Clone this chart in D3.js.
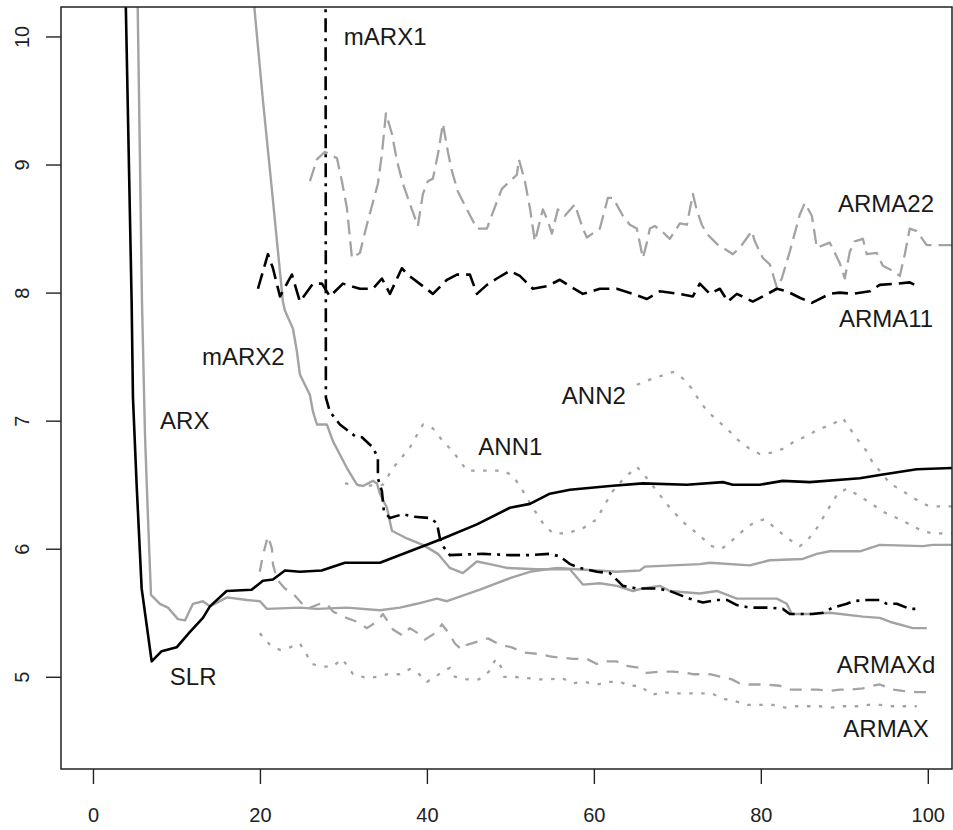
<!DOCTYPE html>
<html>
<head>
<meta charset="utf-8">
<script src="https://cdn.jsdelivr.net/npm/d3@7"></script>
<style>
  body { margin: 0; background: #fff; }
  text { font-family: "Liberation Sans", Arial, sans-serif; }
</style>
</head>
<body>
<div id="chart"></div>
<script>
// series values, as [x, value] pairs
var SLR = [[3.9,10.35],[4.63,7.93],[4.79,7.18],[5.23,6.5],[5.83,5.69],[7.03,5.12],[8.23,5.2],[10.02,5.23],[11.62,5.35],[13.17,5.46],[14.01,5.55],[16.01,5.67],[19.0,5.68],[20.36,5.75],[21.56,5.76],[23.0,5.83],[24.79,5.82],[27.39,5.83],[30.18,5.89],[34.37,5.89],[37.96,5.98],[41.92,6.08],[45.99,6.19],[49.94,6.32],[52.34,6.35],[54.73,6.43],[57.13,6.46],[61.92,6.49],[65.87,6.51],[71.14,6.5],[75.45,6.52],[76.65,6.5],[79.88,6.5],[82.63,6.53],[85.87,6.52],[91.86,6.55],[94.61,6.58],[98.68,6.62],[102.9,6.63]];

var ARX = [[5.33,10.35],[5.63,9.03],[5.87,7.93],[6.23,6.89],[6.59,6.24],[6.95,5.64],[8.02,5.57],[8.98,5.54],[10.18,5.45],[11.02,5.44],[11.98,5.57],[13.17,5.59],[14.01,5.55],[16.05,5.62],[18.44,5.6],[20.0,5.59],[20.84,5.53],[24.79,5.54],[26.83,5.53],[30.42,5.54],[34.37,5.52],[36.77,5.54],[38.8,5.57],[41.2,5.61],[42.4,5.59],[46.35,5.68],[49.94,5.77],[52.34,5.82],[55.57,5.85],[62.75,5.82],[65.51,5.83],[66.11,5.86],[72.69,5.88],[73.89,5.89],[78.68,5.87],[81.08,5.91],[85.03,5.92],[86.71,5.96],[88.26,5.98],[91.86,5.98],[94.25,6.03],[99.4,6.02],[100.6,6.03],[102.9,6.03]];

var mARX1 = [[27.85,11.5],[27.9,7.18],[28.38,7.07],[29.58,6.97],[31.38,6.88],[32.22,6.87],[33.53,6.79],[34.13,6.71],[34.13,6.55],[34.61,6.45],[34.85,6.29],[35.57,6.24],[37.13,6.27],[38.32,6.25],[40.36,6.24],[41.2,6.2],[41.56,6.08],[41.92,6.02],[42.75,5.95],[46.71,5.96],[49.94,5.95],[52.34,5.95],[54.73,5.96],[55.93,5.94],[57.13,5.88],[58.32,5.85],[60.36,5.82],[61.92,5.81],[63.47,5.71],[65.15,5.69],[67.54,5.69],[69.1,5.67],[70.66,5.63],[71.5,5.61],[73.05,5.58],[74.73,5.6],[75.93,5.6],[77.13,5.56],[78.68,5.54],[81.08,5.54],[82.63,5.53],[83.47,5.49],[86.23,5.49],[87.43,5.5],[88.62,5.54],[90.3,5.57],[91.02,5.59],[92.69,5.6],[94.25,5.6],[95.09,5.57],[96.29,5.57],[97.84,5.53],[98.68,5.53]];

var mARX2 = [[19.04,10.43],[20.36,9.5],[21.56,8.72],[22.75,7.93],[22.99,7.86],[23.95,7.72],[24.43,7.54],[24.79,7.36],[25.99,7.2],[26.35,7.07],[26.83,6.97],[28.02,6.97],[28.74,6.84],[30.42,6.63],[31.62,6.5],[32.34,6.49],[33.53,6.53],[34.01,6.51],[34.37,6.43],[35.21,6.32],[35.81,6.14],[37.6,6.08],[39.52,6.03],[41.32,5.96],[42.75,5.85],[44.31,5.81],[45.99,5.9],[47.54,5.88],[49.58,5.85],[53.17,5.84],[57.13,5.84],[58.68,5.72],[60.72,5.73],[62.75,5.71],[64.67,5.67],[65.87,5.69],[67.9,5.71],[69.1,5.67],[72.69,5.65],[74.73,5.67],[77.13,5.61],[81.92,5.61],[83.11,5.57],[83.71,5.49],[85.87,5.49],[88.26,5.5],[92.22,5.47],[94.25,5.46],[95.45,5.43],[98.2,5.38],[99.88,5.38]];

var ARMA11 = [[19.76,8.03],[20.96,8.3],[21.56,8.19],[22.4,7.97],[23.23,8.07],[23.83,8.14],[24.79,7.93],[26.35,8.07],[27.43,8.07],[28.38,7.97],[29.94,8.07],[31.98,8.03],[33.53,8.03],[34.61,8.11],[35.57,7.99],[37.0,8.19],[37.72,8.14],[39.52,8.05],[40.72,7.99],[42.4,8.1],[43.59,8.14],[45.15,8.14],[45.99,7.99],[47.19,8.06],[48.38,8.11],[49.94,8.17],[51.14,8.13],[52.69,8.03],[54.37,8.05],[55.93,8.1],[57.13,8.05],[58.68,7.99],[60.72,8.03],[62.75,8.03],[64.67,7.99],[66.35,7.95],[67.9,8.01],[70.3,7.99],[71.86,7.97],[72.69,8.07],[73.89,7.99],[75.09,8.03],[76.05,7.93],[77.13,7.99],[79.04,7.93],[80.24,7.97],[81.92,8.03],[83.11,8.01],[84.67,7.96],[86.11,7.92],[88.26,7.99],[89.46,8.0],[91.02,7.99],[93.05,8.01],[94.25,8.06],[96.29,8.07],[97.84,8.08],[99.04,8.04]];

var ARMA22 = [[25.99,8.87],[26.83,9.04],[27.78,9.1],[29.22,9.05],[29.82,8.87],[30.42,8.66],[31.02,8.27],[31.98,8.31],[32.81,8.53],[34.13,8.85],[34.61,9.08],[35.09,9.4],[35.81,9.24],[36.41,9.03],[37.13,8.85],[38.2,8.65],[38.92,8.52],[39.52,8.77],[40.12,8.87],[40.72,8.89],[41.32,9.08],[41.92,9.32],[42.51,9.1],[42.99,8.95],[43.71,8.79],[44.79,8.65],[45.99,8.5],[47.19,8.5],[48.38,8.71],[48.98,8.81],[50.78,8.92],[51.02,9.04],[51.74,8.87],[52.34,8.66],[52.93,8.4],[53.89,8.65],[54.49,8.56],[54.97,8.46],[55.69,8.65],[56.53,8.6],[57.72,8.69],[58.68,8.5],[59.16,8.43],[60.72,8.5],[61.68,8.74],[62.28,8.74],[63.47,8.6],[64.31,8.53],[65.15,8.5],[65.87,8.27],[66.35,8.39],[66.71,8.5],[67.3,8.52],[68.14,8.48],[69.1,8.42],[70.3,8.54],[71.14,8.53],[71.86,8.77],[72.34,8.64],[72.93,8.53],[73.53,8.46],[74.73,8.38],[76.65,8.3],[77.49,8.35],[78.92,8.48],[79.28,8.4],[80.24,8.27],[81.08,8.22],[81.92,8.04],[82.51,8.11],[83.47,8.32],[84.67,8.61],[85.27,8.7],[86.11,8.6],[86.71,8.35],[88.26,8.39],[89.46,8.23],[90.06,8.11],[90.66,8.32],[91.26,8.4],[92.22,8.42],[92.69,8.3],[93.89,8.31],[94.61,8.21],[95.81,8.17],[96.65,8.13],[97.25,8.3],[97.84,8.5],[98.68,8.48],[99.88,8.37],[101.08,8.37],[102.99,8.37]];

var ANN1 = [[30.18,6.51],[32.57,6.49],[34.73,6.5],[35.93,6.63],[37.96,6.79],[39.52,6.97],[40.72,6.94],[41.92,6.84],[43.11,6.76],[44.79,6.61],[46.35,6.61],[49.1,6.61],[50.3,6.57],[51.5,6.45],[52.69,6.32],[53.89,6.2],[55.09,6.12],[56.77,6.12],[58.68,6.16],[60.36,6.23],[61.08,6.32],[62.28,6.45],[63.47,6.54],[65.15,6.64],[66.35,6.55],[67.54,6.45],[69.1,6.32],[70.66,6.21],[72.34,6.12],[74.13,6.02],[75.33,6.0],[76.65,6.07],[77.84,6.14],[79.28,6.21],[80.48,6.23],[81.92,6.15],[83.23,6.08],[84.67,6.02],[85.51,6.06],[86.71,6.16],[88.26,6.33],[89.22,6.43],[90.3,6.47],[91.86,6.41],[93.29,6.35],[94.61,6.29],[96.29,6.24],[97.84,6.19],[99.28,6.14],[100.6,6.12],[102.87,6.12]];

var ANN2 = [[65.15,7.28],[66.71,7.32],[69.46,7.38],[70.66,7.33],[71.74,7.25],[72.69,7.15],[73.65,7.07],[74.85,7.0],[76.05,6.93],[77.25,6.85],[78.68,6.78],[79.88,6.74],[81.32,6.75],[82.63,6.78],[84.07,6.84],[85.51,6.88],[86.83,6.93],[88.5,6.97],[89.82,7.02],[90.66,6.94],[91.62,6.85],[92.69,6.76],[93.41,6.67],[94.49,6.59],[95.45,6.51],[97.0,6.45],[98.44,6.39],[99.88,6.34],[101.2,6.33],[102.87,6.33]];

var ARMAXd = [[19.98,5.82],[20.36,5.95],[20.96,6.1],[21.44,6.0],[21.56,5.88],[22.04,5.76],[22.99,5.69],[23.95,5.65],[25.63,5.53],[27.19,5.57],[28.02,5.57],[28.74,5.51],[29.94,5.47],[31.62,5.43],[32.81,5.38],[34.01,5.43],[34.73,5.49],[35.57,5.41],[35.93,5.37],[37.13,5.32],[37.96,5.38],[39.16,5.33],[39.76,5.29],[41.2,5.35],[41.8,5.41],[42.75,5.33],[43.35,5.26],[44.19,5.21],[44.79,5.25],[46.35,5.28],[47.31,5.3],[48.74,5.25],[50.18,5.23],[51.5,5.19],[53.17,5.18],[54.73,5.16],[55.93,5.15],[57.49,5.14],[59.16,5.14],[60.36,5.1],[61.08,5.12],[62.75,5.12],[63.47,5.09],[65.51,5.07],[66.35,5.03],[67.9,5.04],[69.46,5.04],[71.14,5.03],[71.86,5.02],[73.89,5.02],[76.53,4.98],[77.73,4.94],[79.04,4.94],[80.48,4.94],[82.27,4.93],[83.47,4.9],[85.03,4.9],[86.71,4.9],[88.26,4.89],[89.46,4.9],[90.66,4.9],[92.22,4.91],[93.41,4.93],[94.25,4.94],[95.81,4.9],[97.0,4.89],[98.68,4.88],[99.88,4.88]];

var ARMAX = [[19.98,5.34],[21.2,5.25],[22.4,5.21],[23.59,5.23],[24.79,5.26],[25.63,5.17],[26.23,5.1],[27.43,5.08],[28.74,5.08],[29.82,5.14],[30.54,5.08],[31.14,5.02],[32.81,4.99],[34.01,5.0],[35.33,5.02],[36.77,5.02],[37.96,5.06],[38.92,5.03],[40.0,4.96],[40.72,4.99],[41.92,5.04],[42.75,5.07],[43.35,5.0],[44.79,4.98],[46.23,4.98],[47.43,5.04],[48.26,5.14],[48.86,5.08],[49.22,5.0],[50.3,5.0],[51.98,4.99],[53.53,4.98],[54.73,4.98],[56.17,4.99],[57.49,4.95],[58.92,4.96],[60.36,4.94],[61.68,4.96],[63.11,4.96],[64.31,4.93],[65.51,4.93],[66.95,4.86],[68.26,4.88],[69.7,4.87],[71.14,4.87],[72.45,4.87],[74.13,4.87],[75.45,4.83],[76.89,4.81],[78.44,4.78],[80.12,4.78],[81.44,4.78],[82.87,4.76],[84.31,4.77],[85.63,4.77],[87.07,4.77],[88.5,4.76],[89.82,4.77],[91.5,4.77],[92.81,4.78],[94.25,4.78],[95.81,4.77],[97.49,4.77],[98.68,4.77]];

// label names and where they sit (data units)
var labelNames = ["mARX1", "ARMA22", "ARMA11", "mARX2", "ARX", "ANN2", "ANN1", "SLR", "ARMAXd", "ARMAX"];
var labelX = [35, 95, 95, 18, 11, 60, 50, 12, 95, 95];
var labelV = [10, 8.7, 7.8, 7.5, 7, 7.2, 6.8, 5, 5.1, 4.6];

// tick labels
var xTicks = [0, 20, 40, 60, 80, 100];
var yTicks = [5, 6, 7, 8, 9, 10];

var svgWidth = 953;
var svgHeight = 830;

var plot = { left: 61, right: 952, top: 7, bottom: 769 };

var svg = d3.select("#chart")
  .append("svg")
  .attr("width", svgWidth)
  .attr("height", svgHeight);

var xScale = d3.scaleLinear()
  .domain([-3.83, 102.9])
  .range([plot.left, plot.right]);

var yScale = d3.scaleLinear()
  .domain([4.28, 10.23])
  .range([plot.bottom, plot.top]);

svg.append("clipPath")
  .attr("id", "plotclip")
  .append("rect")
  .attr("x", plot.left)
  .attr("y", plot.top)
  .attr("width", plot.right - plot.left)
  .attr("height", plot.bottom - plot.top);

var grey = "#a3a3a3";

// draw order: grey ones first, black on top
var series = [
  { data: ARMAX,  color: grey, width: 2.3, dash: "3.5,8.5" },
  { data: ANN1,   color: grey, width: 2.3, dash: "3.5,8.5" },
  { data: ANN2,   color: grey, width: 2.3, dash: "3.5,8.5" },
  { data: ARMAXd, color: grey, width: 2.3, dash: "12,9" },
  { data: ARMA22, color: grey, width: 2.3, dash: "15,7" },
  { data: ARX,    color: grey, width: 2.4, dash: null },
  { data: mARX2,  color: grey, width: 2.4, dash: null },
  { data: ARMA11, color: "#000", width: 2.6, dash: "16,7" },
  { data: mARX1,  color: "#000", width: 2.6, dash: "14,6,3,6" },
  { data: SLR,    color: "#000", width: 2.6, dash: null }
];

var line = d3.line()
  .x(d => xScale(d[0]))
  .y(d => yScale(d[1]));

var lineGroup = svg.append("g").attr("clip-path", "url(#plotclip)");

series.forEach(function(s) {
  lineGroup.append("path")
    .datum(s.data)
    .attr("d", line)
    .attr("fill", "none")
    .attr("stroke", s.color)
    .attr("stroke-width", s.width)
    .attr("stroke-linejoin", "round")
    .attr("stroke-dasharray", s.dash);
});

// labels
svg.selectAll(".lab")
  .data(labelNames)
  .enter()
  .append("text")
  .attr("class", "lab")
  .attr("x", (d, i) => xScale(labelX[i]))
  .attr("y", (d, i) => yScale(labelV[i]))
  .attr("dy", "0.36em")
  .attr("text-anchor", "middle")
  .attr("font-size", "24px")
  .attr("fill", "#1a1a1a")
  .text(d => d);

// axes
var bottomAxis = d3.axisBottom(xScale).tickValues(xTicks).tickSize(15).tickPadding(0).tickFormat(d3.format("d"));
var leftAxis = d3.axisLeft(yScale).tickValues(yTicks).tickSize(15).tickFormat(d3.format("d"));

var gx = svg.append("g")
  .attr("transform", `translate(0, ${plot.bottom})`)
  .call(bottomAxis);
gx.select(".domain").remove();
gx.selectAll("line").attr("stroke", "#222").attr("stroke-width", 1.4);
gx.selectAll("text")
  .attr("font-size", "20px")
  .attr("fill", "#222")
  .attr("font-family", "Liberation Sans, Arial, sans-serif")
  .attr("y", 46)
  .attr("dy", "0.36em");

var gy = svg.append("g")
  .attr("transform", `translate(${plot.left}, 0)`)
  .call(leftAxis);
gy.select(".domain").remove();
gy.selectAll("line").attr("stroke", "#222").attr("stroke-width", 1.4);
// tick groups are already moved to their y, so only shift left and turn
gy.selectAll("text")
  .attr("font-size", "20px")
  .attr("fill", "#222")
  .attr("font-family", "Liberation Sans, Arial, sans-serif")
  .attr("x", null)
  .attr("dy", null)
  .attr("text-anchor", "middle")
  .attr("transform", "translate(-39, 0) rotate(-90) translate(0, 7)");

// box
svg.append("rect")
  .attr("x", plot.left)
  .attr("y", plot.top)
  .attr("width", plot.right - plot.left)
  .attr("height", plot.bottom - plot.top)
  .attr("fill", "none")
  .attr("stroke", "#222")
  .attr("stroke-width", 1.5);
</script>
</body>
</html>
